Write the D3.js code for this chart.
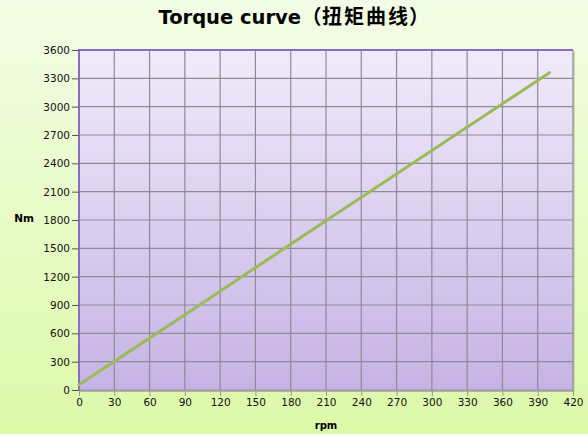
<!DOCTYPE html>
<html>
<head>
<meta charset="utf-8">
<script src="https://cdn.jsdelivr.net/npm/d3@7"></script>
<style>
  body { margin: 0; }
  svg { display: block; }
</style>
</head>
<body>
<svg></svg>
<script>
// data
var rpm = [0, 100, 200, 300, 400];
var torque = [55, 880, 1710, 2535, 3360];
var xTicks = d3.range(0, 421, 30);
var yTicks = d3.range(0, 3601, 300);
var titleLatin = "Torque curve";
var titleCjk = "扭矩曲线";

var screen = {width: 588, height: 434};
var margins = {top: 50, right: 15, bottom: 44, left: 79};
var width = screen.width - margins.left - margins.right;
var height = screen.height - margins.top - margins.bottom;

var svg = d3.select("svg")
  .attr("width", screen.width)
  .attr("height", screen.height);

var defs = svg.append("defs");
var bg = defs.append("linearGradient").attr("id", "bg")
  .attr("x1", 0).attr("y1", 0).attr("x2", 0).attr("y2", 1);
bg.append("stop").attr("offset", "0%").attr("stop-color", "#f3fde6");
bg.append("stop").attr("offset", "100%").attr("stop-color", "#dcf9a9");

var plotBg = defs.append("linearGradient").attr("id", "plotBg")
  .attr("x1", 0).attr("y1", 0).attr("x2", 0).attr("y2", 1);
plotBg.append("stop").attr("offset", "0%").attr("stop-color", "#f0ebfa");
plotBg.append("stop").attr("offset", "100%").attr("stop-color", "#c6b3e4");

svg.append("rect")
  .attr("width", screen.width).attr("height", screen.height)
  .attr("fill", "url(#bg)");

var xScale = d3.scaleLinear().domain([0, 420]).range([0, width]);
var yScale = d3.scaleLinear().domain([0, 3600]).range([height, 0]);

var g = svg.append("g")
  .attr("transform", "translate(" + margins.left + "," + margins.top + ")");

// shadow
g.append("rect")
  .attr("x", 2).attr("y", 2)
  .attr("width", width).attr("height", height)
  .attr("fill", "#b8c99a").attr("opacity", 0.6);

g.append("rect")
  .attr("width", width).attr("height", height)
  .attr("fill", "url(#plotBg)");

// grid
g.selectAll(".vgrid").data(xTicks.slice(1)).enter().append("line")
  .attr("x1", function(d){return xScale(d);})
  .attr("x2", function(d){return xScale(d);})
  .attr("y1", 0).attr("y2", height)
  .attr("stroke", "#8e8a96").attr("stroke-width", 1.2);

g.selectAll(".hgrid").data(yTicks.slice(1)).enter().append("line")
  .attr("x1", 0).attr("x2", width)
  .attr("y1", function(d){return yScale(d);})
  .attr("y2", function(d){return yScale(d);})
  .attr("stroke", "#8e8a96").attr("stroke-width", 1.2);

// purple left/top border
g.append("path")
  .attr("d", "M0," + height + "V0H" + width)
  .attr("fill", "none").attr("stroke", "#8c6cc0").attr("stroke-width", 2);

var yAxis = d3.axisLeft(yScale).tickValues(yTicks).tickFormat(d3.format("d"))
  .tickSize(7).tickSizeOuter(0);
var yG = g.append("g").call(yAxis);
yG.select(".domain").remove();
yG.selectAll("line").attr("stroke", "#555");
yG.selectAll("text")
  .attr("x", -9)
  .style("font-family", "DejaVu Sans, sans-serif")
  .style("font-size", "10.5px").attr("fill", "#111");

var xAxis = d3.axisBottom(xScale).tickValues(xTicks).tickFormat(d3.format("d"))
  .tickSize(6).tickSizeOuter(0);
var xG = g.append("g").attr("transform", "translate(0," + height + ")").call(xAxis);
xG.select(".domain").attr("stroke", "#9a9aa6").attr("stroke-width", 2);
xG.selectAll("line").attr("stroke", "#999");
xG.selectAll("text")
  .attr("y", 9)
  .style("font-family", "DejaVu Sans, sans-serif")
  .style("font-size", "10.5px").attr("fill", "#111");

var line = d3.line()
  .x(function(d, i){return xScale(rpm[i]);})
  .y(function(d){return yScale(d);});

g.append("path")
  .datum(torque)
  .attr("d", line)
  .attr("fill", "none")
  .attr("stroke", "#9bbb59")
  .attr("stroke-width", 3)
  .attr("stroke-linecap", "round");

// title, pieces placed to keep the full-width brackets
var title = svg.append("g").style("font-weight", "bold");
title.append("text")
  .attr("x", 301).attr("y", 24).attr("text-anchor", "end")
  .style("font-family", "DejaVu Sans, sans-serif").style("font-size", "19.5px")
  .text(titleLatin);
title.append("text")
  .attr("x", 301.5).attr("y", 24)
  .style("font-family", "'Noto Sans CJK SC', sans-serif").style("font-size", "20px")
  .text("（");
title.append("text")
  .attr("x", 322).attr("y", 24)
  .style("font-family", "'Noto Sans CJK SC', sans-serif").style("font-size", "20px")
  .style("letter-spacing", "2px")
  .text(titleCjk);
title.append("text")
  .attr("x", 409).attr("y", 24)
  .style("font-family", "'Noto Sans CJK SC', sans-serif").style("font-size", "20px")
  .text("）");

svg.append("text")
  .attr("x", 24).attr("y", 222)
  .attr("text-anchor", "middle")
  .style("font-family", "DejaVu Sans, sans-serif")
  .style("font-weight", "bold").style("font-size", "10.5px")
  .text("Nm");

svg.append("text")
  .attr("x", margins.left + width / 2).attr("y", 429)
  .attr("text-anchor", "middle")
  .style("font-family", "DejaVu Sans, sans-serif")
  .style("font-weight", "bold").style("font-size", "10px")
  .text("rpm");
</script>
</body>
</html>
